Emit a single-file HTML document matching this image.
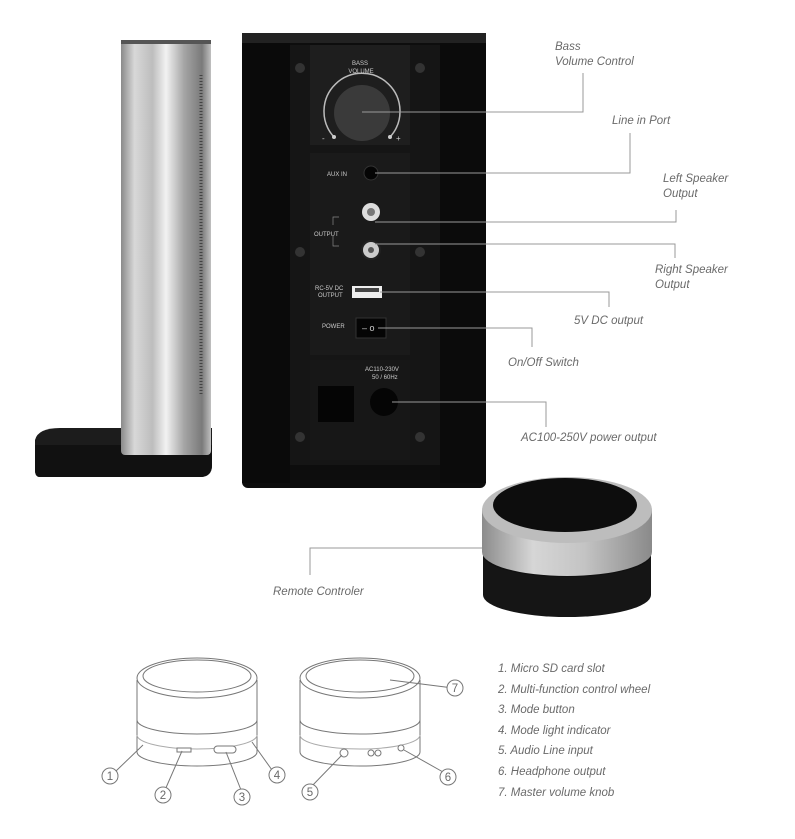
<!DOCTYPE html>
<html><head><meta charset="utf-8"><style>
body{margin:0;background:#fff;}
svg{display:block}
text{font-family:"Liberation Sans",sans-serif;font-style:italic;fill:#6a6a6a;font-size:11.5px}
.s{font-style:normal;fill:#ccc;font-size:6px}
</style></head><body>
<svg width="795" height="839" viewBox="0 0 795 839" xmlns="http://www.w3.org/2000/svg">
<defs>
<linearGradient id="sil" x1="0" x2="1">
<stop offset="0" stop-color="#8a8a8a"/><stop offset="0.15" stop-color="#d8d8d8"/><stop offset="0.35" stop-color="#bdbdbd"/><stop offset="0.5" stop-color="#f2f2f2"/><stop offset="0.7" stop-color="#a5a5a5"/><stop offset="0.9" stop-color="#7a7a7a"/><stop offset="1" stop-color="#c0c0c0"/>
</linearGradient>
<linearGradient id="ring" x1="0" x2="1">
<stop offset="0" stop-color="#8c8c8c"/><stop offset="0.3" stop-color="#d6d6d6"/><stop offset="0.6" stop-color="#c4c4c4"/><stop offset="1" stop-color="#8a8a8a"/>
</linearGradient>
</defs>
<!-- tower -->
<path d="M35 440 Q38 428 60 428 L212 428 L212 465 Q212 477 200 477 L40 477 Q35 477 35 470Z" fill="#1c1c1c"/>
<path d="M35 445 L212 445 L212 465 Q212 477 200 477 L40 477 Q35 477 35 470Z" fill="#111"/>
<rect x="121" y="40" width="90" height="415" rx="4" fill="url(#sil)"/>
<rect x="121" y="40" width="90" height="4" fill="#555"/>
<line x1="201" y1="75" x2="201" y2="395" stroke="#444" stroke-width="3" stroke-dasharray="1 2"/>
<!-- speaker back -->
<rect x="242" y="33" width="244" height="455" rx="6" fill="#0d0d0d"/>
<rect x="242" y="33" width="244" height="10" fill="#222"/>
<rect x="290" y="45" width="170" height="420" fill="#151515"/>
<rect x="310" y="45" width="100" height="100" fill="#1e1e1e"/>
<rect x="310" y="153" width="100" height="202" fill="#1a1a1a"/>
<rect x="310" y="360" width="100" height="100" fill="#171717"/>
<rect x="242" y="43" width="48" height="440" fill="#0a0a0a"/>
<rect x="440" y="43" width="46" height="440" fill="#0b0b0b"/>
<g fill="#333"><circle cx="300" cy="68" r="5"/><circle cx="420" cy="68" r="5"/><circle cx="300" cy="252" r="5"/><circle cx="420" cy="252" r="5"/><circle cx="300" cy="437" r="5"/><circle cx="420" cy="437" r="5"/></g>
<text class="s" x="360" y="65" text-anchor="middle">BASS</text>
<text class="s" x="361" y="73" text-anchor="middle">VOLUME</text>
<path d="M334 137 A38 38 0 1 1 390 137" fill="none" stroke="#bbb" stroke-width="1.5"/>
<circle cx="362" cy="113" r="28" fill="#3a3a3a"/>
<circle cx="334" cy="137" r="2" fill="#ccc"/><circle cx="390" cy="137" r="2" fill="#ccc"/>
<text class="s" x="322" y="141" style="font-size:8px">-</text><text class="s" x="396" y="141" style="font-size:8px">+</text>
<text class="s" x="327" y="176">AUX IN</text>
<circle cx="371" cy="173" r="7" fill="#050505" stroke="#333"/>
<circle cx="371" cy="212" r="9" fill="#ddd"/><circle cx="371" cy="212" r="4" fill="#777"/>
<circle cx="371" cy="250" r="9" fill="#ccc" stroke="#222" stroke-width="2"/><circle cx="371" cy="250" r="3" fill="#555"/>
<text class="s" x="314" y="236">OUTPUT</text>
<path d="M333 225 v-8 h6 M333 236 v10 h6" stroke="#888" fill="none" stroke-width="0.7"/>
<text class="s" x="315" y="290">RC-5V DC</text><text class="s" x="318" y="297">OUTPUT</text>
<rect x="352" y="286" width="30" height="12" fill="#eee"/><rect x="355" y="288" width="24" height="4" fill="#444"/>
<text class="s" x="322" y="328">POWER</text>
<rect x="356" y="318" width="30" height="20" fill="#050505" stroke="#333"/>
<text class="s" x="362" y="331" style="font-size:9px">– o</text>
<text class="s" x="365" y="371">AC110-230V</text><text class="s" x="372" y="379">50 / 60Hz</text>
<rect x="318" y="386" width="36" height="36" fill="#050505"/>
<circle cx="384" cy="402" r="14" fill="#050505"/>
<!-- leader lines -->
<g stroke="#999" stroke-width="1" fill="none">
<path d="M362 112 H583 V73"/>
<path d="M375 173 H630 V133"/>
<path d="M375 222 H676 V210"/>
<path d="M375 244 H675 V258"/>
<path d="M380 292 H609 V307"/>
<path d="M378 328 H532 V347"/>
<path d="M392 402 H546 V427"/>
<path d="M490 548 H310 V575"/>
</g>
<text x="555" y="50">Bass</text><text x="555" y="65">Volume Control</text>
<text x="612" y="124">Line in Port</text>
<text x="663" y="182">Left Speaker</text><text x="663" y="197">Output</text>
<text x="655" y="273">Right Speaker</text><text x="655" y="288">Output</text>
<text x="574" y="324">5V DC output</text>
<text x="508" y="366">On/Off Switch</text>
<text x="521" y="441">AC100-250V power output</text>
<text x="273" y="595">Remote Controler</text>
<!-- puck -->
<path d="M483 555 L483 595 A84 22 0 0 0 651 595 L651 555Z" fill="#151515"/>
<ellipse cx="567" cy="555" rx="84" ry="22" fill="#111"/>
<path d="M482 510 L482 552 A85 24 0 0 0 652 552 L652 510Z" fill="url(#ring)"/>
<ellipse cx="567" cy="510" rx="85" ry="33" fill="#bdbdbd"/>
<ellipse cx="565" cy="505" rx="72" ry="27" fill="#0d0d0d"/>
<!-- line drawings -->
<g stroke="#777" stroke-width="1" fill="#fff">
<path d="M137 680 L137 752 A60 14 0 0 0 257 752 L257 680"/>
<ellipse cx="197" cy="678" rx="60" ry="20"/>
<ellipse cx="197" cy="676" rx="54" ry="16"/>
<path d="M137 720 A60 14 0 0 0 257 720" fill="none"/>
<path d="M137 735 A60 14 0 0 0 257 735" fill="none" stroke="#aaa"/>
<path d="M300 680 L300 752 A60 14 0 0 0 420 752 L420 680"/>
<ellipse cx="360" cy="678" rx="60" ry="20"/>
<ellipse cx="360" cy="676" rx="54" ry="16"/>
<path d="M300 720 A60 14 0 0 0 420 720" fill="none"/>
<path d="M300 735 A60 14 0 0 0 420 735" fill="none" stroke="#aaa"/>
<rect x="214" y="746" width="22" height="7" rx="3.5"/>
<rect x="177" y="748" width="14" height="4"/>
<circle cx="344" cy="753" r="4"/><circle cx="371" cy="753" r="3"/><circle cx="378" cy="753" r="3"/><circle cx="401" cy="748" r="3"/>
<path d="M116 771 L143 745 M165 790 L182 751 M241 790 L226 752 M272 770 L252 742 M310 788 L342 755 M443 772 L404 750 M453 688 L390 680" fill="none"/>
<circle cx="110" cy="776" r="8"/><circle cx="163" cy="795" r="8"/><circle cx="242" cy="797" r="8"/><circle cx="277" cy="775" r="8"/>
<circle cx="310" cy="792" r="8"/><circle cx="448" cy="777" r="8"/><circle cx="455" cy="688" r="8"/>
</g>
<g style="font-style:normal;fill:#777;font-size:11px" text-anchor="middle">
<text x="110" y="780" style="font-style:normal">1</text><text x="163" y="799" style="font-style:normal">2</text><text x="242" y="801" style="font-style:normal">3</text><text x="277" y="779" style="font-style:normal">4</text><text x="310" y="796" style="font-style:normal">5</text><text x="448" y="781" style="font-style:normal">6</text><text x="455" y="692" style="font-style:normal">7</text>
</g>
<g>
<text x="498" y="672">1. Micro SD card slot</text>
<text x="498" y="693">2. Multi-function control wheel</text>
<text x="498" y="713">3. Mode button</text>
<text x="498" y="734">4. Mode light indicator</text>
<text x="498" y="754">5. Audio Line input</text>
<text x="498" y="775">6. Headphone output</text>
<text x="498" y="796">7. Master volume knob</text>
</g>
</svg>
</body></html>
